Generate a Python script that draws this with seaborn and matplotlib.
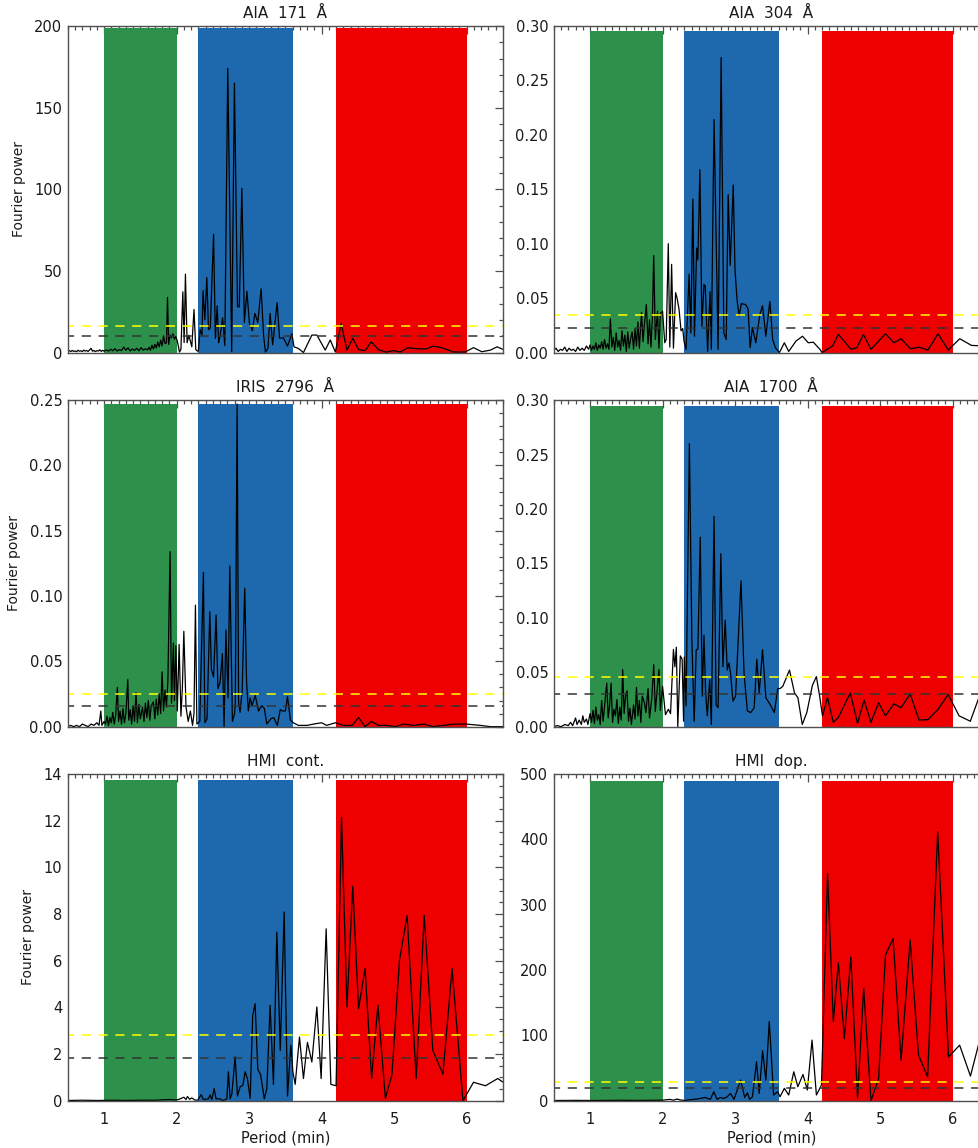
import matplotlib
matplotlib.use("Agg")
import matplotlib.pyplot as plt
import seaborn as sns
from matplotlib.ticker import MultipleLocator, FormatStrFormatter

# ---- data (period in min, Fourier power) ----
titles = ["AIA  171  Å", "AIA  304  Å", "IRIS  2796  Å", "AIA  1700  Å", "HMI  cont.", "HMI  dop."]

period_171 = [0.50, 0.52, 0.54, 0.56, 0.58, 0.60, 0.62, 0.64, 0.66, 0.68, 0.70, 0.72, 0.74, 0.76, 0.78,
              0.80, 0.82, 0.84, 0.86, 0.88, 0.90, 0.92, 0.94, 0.96, 0.98, 1.00, 1.03, 1.06, 1.09, 1.12,
              1.15, 1.18, 1.21, 1.24, 1.27, 1.30, 1.33, 1.36, 1.39, 1.42, 1.45, 1.48, 1.51, 1.54, 1.57,
              1.60, 1.62, 1.64, 1.66, 1.68, 1.70, 1.72, 1.74, 1.76, 1.78, 1.80, 1.82, 1.84, 1.86, 1.875,
              1.89, 1.91, 1.93, 1.95, 1.97, 1.99, 2.01, 2.04, 2.06, 2.086, 2.104, 2.122, 2.145, 2.17,
              2.21, 2.24, 2.265, 2.29, 2.30, 2.325, 2.35, 2.365, 2.39, 2.417, 2.44, 2.465, 2.51, 2.535,
              2.56, 2.58, 2.60, 2.635, 2.665, 2.706, 2.76, 2.798, 2.84, 2.865, 2.90, 2.935, 2.97, 3.005,
              3.045, 3.08, 3.12, 3.166, 3.20, 3.225, 3.26, 3.29, 3.325, 3.387, 3.42, 3.475, 3.53, 3.59,
              3.62, 3.68, 3.75, 3.866, 3.935, 4.05, 4.12, 4.19, 4.27, 4.35, 4.43, 4.51, 4.60, 4.685,
              4.785, 4.89, 4.99, 5.085, 5.185, 5.36, 5.44, 5.54, 5.66, 5.82, 5.98, 6.096, 6.21, 6.33,
              6.42, 6.50]
power_171 = [0.8, 1.2, 0.6, 1.3, 0.7, 1.0, 0.5, 1.4, 0.8, 1.1, 0.6, 1.5, 0.9, 1.2, 0.7,
             1.6, 2.6, 0.8, 1.3, 0.6, 1.1, 0.9, 1.7, 0.7, 1.4, 0.8, 1.6, 0.9, 2.0, 1.1,
             2.4, 0.9, 1.8, 1.2, 3.4, 1.4, 2.9, 1.0, 2.2, 1.3, 2.6, 1.1, 3.0, 1.5, 2.3,
             1.6, 3.2, 1.4, 4.5, 2.2, 5.0, 2.8, 6.4, 3.5, 7.6, 4.0, 10.2, 5.5, 6.0, 33.8,
             5.0, 10.8, 9.0, 11.5, 8.2, 9.8, 7.0, 0.3, 2.0, 37.2, 6.1, 48.0, 6.0, 10.6,
             3.5, 26.4, 1.8, 0.8, 1.0, 14.0, 10.8, 37.9, 20.0, 46.0, 14.0, 15.0, 72.4, 8.7,
             28.6, 6.0, 10.0, 21.3, 4.3, 174.0, 0.5, 165.0, 28.0, 28.0, 100.5, 18.5, 37.5, 18.0,
             13.3, 24.0, 18.4, 39.0, 10.6, 0.3, 2.5, 24.0, 4.8, 30.6, 8.9, 8.9, 4.0, 11.5,
             3.5, 2.5, 0.0, 10.7, 10.7, 1.5, 7.7, 0.3, 17.9, 1.5, 8.7, 1.8, 1.2, 6.6,
             1.8, 0.2, 1.2, 0.3, 2.9, 2.2, 2.2, 3.9, 3.0, 0.3, 0.3, 3.0, 0.5, 1.5,
             3.5, 2.0]

period_304 = [0.50, 0.53, 0.56, 0.59, 0.62, 0.65, 0.68, 0.71, 0.74, 0.77, 0.80, 0.83, 0.86, 0.89, 0.92,
              0.95, 0.98, 1.00, 1.02, 1.04, 1.06, 1.08, 1.10, 1.12, 1.14, 1.16, 1.18, 1.20, 1.22, 1.24,
              1.26, 1.28, 1.30, 1.32, 1.34, 1.36, 1.38, 1.40, 1.42, 1.44, 1.46, 1.48, 1.50, 1.52, 1.54,
              1.56, 1.58, 1.60, 1.62, 1.64, 1.66, 1.68, 1.71, 1.73, 1.75, 1.776, 1.80, 1.82, 1.84, 1.86,
              1.878, 1.90, 1.93, 1.95, 1.97, 2.00, 2.03, 2.05, 2.079, 2.10, 2.125, 2.15, 2.18, 2.20,
              2.227, 2.255, 2.278, 2.297, 2.324, 2.366, 2.39, 2.418, 2.44, 2.47, 2.487, 2.515, 2.543, 2.571,
              2.589, 2.622, 2.655, 2.673, 2.710, 2.766, 2.808, 2.845, 2.878, 2.905, 2.933, 2.975, 2.999, 3.027,
              3.055, 3.087, 3.147, 3.18, 3.208, 3.24, 3.286, 3.342, 3.379, 3.425, 3.48, 3.519, 3.556, 3.612,
              3.68, 3.74, 3.84, 3.93, 4.01, 4.08, 4.17, 4.20, 4.345, 4.425, 4.60, 4.68, 4.77, 4.875,
              5.075, 5.19, 5.29, 5.42, 5.54, 5.66, 5.80, 5.94, 6.10, 6.26, 6.42, 6.50]
power_304 = [0.002, 0.004, 0.001, 0.003, 0.002, 0.005, 0.001, 0.004, 0.002, 0.003, 0.001, 0.005, 0.002, 0.004, 0.002,
             0.006, 0.003, 0.007, 0.002, 0.006, 0.003, 0.009, 0.002, 0.007, 0.004, 0.010, 0.003, 0.012, 0.004, 0.008,
             0.003, 0.031, 0.005, 0.014, 0.002, 0.018, 0.005, 0.011, 0.002, 0.020, 0.006, 0.016, 0.001, 0.019, 0.004,
             0.013, 0.019, 0.003, 0.022, 0.006, 0.028, 0.004, 0.037, 0.010, 0.026, 0.044, 0.008, 0.030, 0.005, 0.033,
             0.089, 0.012, 0.038, 0.004, 0.036, 0.038, 0.009, 0.012, 0.100, 0.005, 0.081, 0.004, 0.055, 0.050,
             0.040, 0.020, 0.022, 0.010, 0.003, 0.072, 0.018, 0.141, 0.015, 0.096, 0.085, 0.168, 0.024, 0.0625,
             0.061, 0.001, 0.056, 0.003, 0.214, 0.003, 0.271, 0.018, 0.012, 0.145, 0.080, 0.154, 0.076, 0.049,
             0.0335, 0.045, 0.044, 0.040, 0.0045, 0.023, 0.009, 0.035, 0.043, 0.015, 0.047, 0.012, 0.0045, 0.0,
             0.009, 0.001, 0.0105, 0.015, 0.009, 0.0095, 0.003, 0.0, 0.006, 0.0167, 0.003, 0.0045, 0.0167, 0.003,
             0.0173, 0.009, 0.0127, 0.0035, 0.005, 0.0023, 0.0173, 0.0023, 0.0127, 0.0066, 0.006, 0.005]

period_2796 = [0.50, 0.54, 0.58, 0.62, 0.66, 0.70, 0.74, 0.78, 0.82, 0.86, 0.90, 0.93, 0.955, 0.97, 1.00,
               1.02, 1.04, 1.06, 1.08, 1.10, 1.12, 1.14, 1.16, 1.183, 1.20, 1.22, 1.24, 1.26, 1.28, 1.30,
               1.327, 1.34, 1.36, 1.38, 1.40, 1.42, 1.44, 1.46, 1.48, 1.50, 1.53, 1.55, 1.57, 1.59, 1.61,
               1.63, 1.65, 1.68, 1.70, 1.72, 1.74, 1.76, 1.78, 1.80, 1.82, 1.84, 1.86, 1.88, 1.91, 1.93,
               1.956, 1.97, 1.99, 2.01, 2.035, 2.06, 2.08, 2.10, 2.13, 2.16, 2.19, 2.22, 2.24, 2.26, 2.28,
               2.30, 2.32, 2.37, 2.39, 2.42, 2.458, 2.48, 2.51, 2.545, 2.57, 2.60, 2.632, 2.655, 2.68, 2.71,
               2.734, 2.77, 2.80, 2.81, 2.835, 2.855, 2.875, 2.905, 2.94, 2.965, 2.99, 3.015, 3.04, 3.085, 3.13,
               3.175, 3.21, 3.245, 3.30, 3.34, 3.39, 3.43, 3.465, 3.50, 3.53, 3.57, 3.61, 3.68, 3.80, 3.89,
               4.00, 4.07, 4.19, 4.30, 4.42, 4.51, 4.60, 4.685, 4.785, 4.90, 5.015, 5.13, 5.27, 5.41, 5.54,
               5.68, 5.82, 6.00, 6.19, 6.33, 6.50]
power_2796 = [0.000, 0.001, 0.000, 0.001, 0.000, 0.002, 0.001, 0.000, 0.002, 0.001, 0.003, 0.001, 0.012, 0.001, 0.004,
              0.002, 0.008, 0.001, 0.007, 0.003, 0.011, 0.002, 0.009, 0.030, 0.004, 0.012, 0.002, 0.014, 0.003, 0.010,
              0.036, 0.005, 0.013, 0.002, 0.016, 0.004, 0.026, 0.003, 0.017, 0.006, 0.015, 0.004, 0.018, 0.007, 0.020,
              0.005, 0.016, 0.019, 0.006, 0.021, 0.009, 0.025, 0.010, 0.042, 0.012, 0.028, 0.015, 0.035, 0.134, 0.018,
              0.064, 0.020, 0.062, 0.012, 0.063, 0.008, 0.030, 0.073, 0.015, 0.004, 0.012, 0.001, 0.010, 0.093, 0.002,
              0.003, 0.004, 0.118, 0.003, 0.006, 0.088, 0.044, 0.038, 0.0855, 0.029, 0.034, 0.056, 0.000, 0.074, 0.022,
              0.123, 0.004, 0.010, 0.018, 0.247, 0.019, 0.011, 0.028, 0.106, 0.035, 0.012, 0.022, 0.016, 0.024, 0.012,
              0.016, 0.014, 0.002, 0.006, 0.007, 0.001, 0.013, 0.012, 0.012, 0.023, 0.005, 0.003, 0.001, 0.001, 0.002,
              0.003, 0.001, 0.003, 0.001, 0.001, 0.007, 0.000, 0.004, 0.001, 0.001, 0.000, 0.002, 0.001, 0.002, 0.000,
              0.001, 0.002, 0.002, 0.001, 0.000, 0.000]

period_1700 = [0.50, 0.55, 0.60, 0.65, 0.70, 0.73, 0.76, 0.80, 0.82, 0.85, 0.88, 0.90, 0.92, 0.95, 0.97,
               1.00, 1.02, 1.04, 1.06, 1.08, 1.10, 1.12, 1.14, 1.16, 1.18, 1.20, 1.23, 1.25, 1.27, 1.29,
               1.31, 1.33, 1.35, 1.37, 1.39, 1.41, 1.43, 1.45, 1.47, 1.49, 1.51, 1.53, 1.55, 1.57, 1.60,
               1.62, 1.64, 1.66, 1.68, 1.70, 1.72, 1.75, 1.77, 1.80, 1.82, 1.85, 1.878, 1.90, 1.92, 1.95,
               1.97, 2.00, 2.04, 2.08, 2.11, 2.15, 2.17, 2.19, 2.21, 2.245, 2.27, 2.29, 2.30, 2.324, 2.37,
               2.404, 2.436, 2.464, 2.487, 2.52, 2.548, 2.571, 2.594, 2.617, 2.65, 2.673, 2.71, 2.738, 2.766,
               2.804, 2.832, 2.864, 2.892, 2.915, 2.938, 2.971, 3.007, 3.082, 3.124, 3.17, 3.216, 3.264, 3.30,
               3.333, 3.379, 3.425, 3.487, 3.542, 3.589, 3.62, 3.658, 3.751, 3.82, 3.867, 3.927, 3.99, 4.067,
               4.122, 4.17, 4.206, 4.275, 4.355, 4.425, 4.59, 4.69, 4.78, 4.875, 4.98, 5.075, 5.19, 5.29,
               5.415, 5.54, 5.66, 5.80, 5.94, 6.09, 6.245, 6.42, 6.50]
power_1700 = [0.000, 0.001, 0.000, 0.002, 0.001, 0.004, 0.001, 0.008, 0.002, 0.006, 0.002, 0.010, 0.004, 0.007, 0.002,
              0.012, 0.004, 0.015, 0.003, 0.018, 0.006, 0.011, 0.002, 0.024, 0.005, 0.019, 0.040, 0.008, 0.020, 0.040,
              0.004, 0.016, 0.010, 0.025, 0.003, 0.018, 0.006, 0.0525, 0.012, 0.028, 0.033, 0.005, 0.017, 0.002, 0.020,
              0.007, 0.036, 0.010, 0.024, 0.004, 0.028, 0.022, 0.013, 0.035, 0.008, 0.025, 0.057, 0.014, 0.030, 0.0525,
              0.015, 0.037, 0.011, 0.016, 0.012, 0.071, 0.055, 0.073, 0.000, 0.065, 0.062, 0.005, 0.064, 0.019, 0.260,
              0.080, 0.005, 0.0707, 0.0714, 0.174, 0.028, 0.084, 0.031, 0.010, 0.043, 0.002, 0.193, 0.020, 0.0175,
              0.159, 0.055, 0.098, 0.052, 0.0586, 0.049, 0.0235, 0.028, 0.134, 0.049, 0.0144, 0.013, 0.0175, 0.062,
              0.031, 0.0707, 0.0266, 0.020, 0.013, 0.035, 0.035, 0.037, 0.052, 0.031, 0.0266, 0.002, 0.013, 0.038,
              0.046, 0.0266, 0.010, 0.0266, 0.004, 0.0085, 0.031, 0.003, 0.0245, 0.004, 0.022, 0.010, 0.021, 0.0175,
              0.030, 0.006, 0.0065, 0.016, 0.0296, 0.010, 0.005, 0.037, 0.030]

period_cont = [0.50, 0.70, 0.90, 1.10, 1.30, 1.50, 1.70, 1.90, 2.00, 2.05, 2.10, 2.13, 2.15, 2.18, 2.21,
               2.25, 2.29, 2.338, 2.37, 2.44, 2.462, 2.486, 2.518, 2.545, 2.60, 2.638, 2.693, 2.715, 2.738, 2.762,
               2.807, 2.84, 2.877, 2.914, 2.946, 2.977, 3.015, 3.05, 3.083, 3.12, 3.16, 3.21, 3.245, 3.29, 3.336,
               3.383, 3.43, 3.484, 3.53, 3.576, 3.604, 3.636, 3.695, 3.75, 3.805, 3.866, 3.935, 3.994, 4.063,
               4.128, 4.20, 4.275, 4.35, 4.43, 4.51, 4.60, 4.69, 4.777, 4.88, 4.97, 5.075, 5.18, 5.305,
               5.416, 5.535, 5.674, 5.80, 5.95, 6.096, 6.26, 6.43, 6.50]
power_cont = [0.01, 0.02, 0.01, 0.02, 0.01, 0.02, 0.02, 0.05, 0.03, 0.08, 0.15, 0.05, 0.18, 0.06, 0.12,
              0.03, 0.02, 0.26, 0.05, 0.08, 0.25, 0.05, 0.52, 0.08, 0.08, 0.0, 0.08, 1.24, 0.08, 0.28,
              1.88, 0.2, 0.6, 0.66, 1.24, 0.95, 0.1, 3.66, 4.16, 1.35, 1.1, 0.08, 0.52, 4.09, 0.7,
              7.23, 2.15, 8.09, 0.2, 2.38, 1.24, 0.7, 2.73, 0.95, 2.5, 1.66, 4.02, 0.95, 7.37,
              0.7, 0.64, 12.15, 4.02, 9.19, 3.95, 5.66, 0.95, 4.1, 0.1, 1.1, 6.02, 7.94, 0.95,
              7.94, 2.15, 1.14, 5.66, 0.0, 0.79, 0.64, 0.95, 0.8]

period_dop = [0.50, 0.80, 1.10, 1.40, 1.70, 2.00, 2.10, 2.15, 2.20, 2.25, 2.31, 2.497, 2.589, 2.659, 2.706,
              2.752, 2.798, 2.846, 2.892, 2.938, 2.985, 3.077, 3.133, 3.17, 3.202, 3.24, 3.296, 3.333, 3.38,
              3.425, 3.472, 3.532, 3.588, 3.62, 3.68, 3.74, 3.81, 3.866, 3.937, 3.997, 4.062, 4.122, 4.192,
              4.276, 4.355, 4.425, 4.508, 4.597, 4.69, 4.774, 4.875, 4.98, 5.075, 5.18, 5.29, 5.415, 5.53,
              5.656, 5.795, 5.944, 6.098, 6.247, 6.41, 6.50]
power_dop = [0.3, 0.5, 0.3, 0.6, 0.4, 0.8, 2.0, 0.8, 2.5, 1.0, 0.4, 3.0, 4.9, 2.0, 13.7,
             2.0, 4.9, 3.4, 6.0, 11.2, 2.0, 31.6, 4.9, 12.0, 2.0, 6.0, 59.6, 11.2, 76.5,
             31.6, 121.0, 8.7, 13.9, 6.0, 18.9, 8.7, 44.3, 21.4, 40.2, 16.3, 92.8, 8.7, 24.0,
             348.0, 121.0, 211.0, 95.4, 220.0, 4.0, 172.0, 0.0, 34.0, 223.0, 248.0, 62.0, 246.0, 70.0,
             36.6, 411.7, 67.0, 85.0, 37.7, 108.0, 100.0]

periods = [period_171, period_304, period_2796, period_1700, period_cont, period_dop]
powers = [power_171, power_304, power_2796, power_1700, power_cont, power_dop]

# significance levels (yellow / dark dashed) and band tops
sig_yellow = [16.0, 0.0348, 0.0247, 0.0459, 2.8, 28.5]
sig_black = [10.2, 0.0225, 0.0159, 0.0300, 1.83, 18.8]
band_tops = [199.0, 0.295, 0.247, 0.295, 13.75, 490.0]
y_max = [200, 0.30, 0.25, 0.30, 14, 500]

band_ranges = [(1.0, 2.0), (2.3, 3.6), (4.2, 6.0)]
band_colors = ["#2e914b", "#1e68ae", "#ee0000"]

# axis styling per panel
y_major = [50, 0.05, 0.05, 0.05, 2, 100]
y_minor = [10, 0.01, 0.01, 0.01, 0.5, 20]
y_fmt = ["%d", "%.2f", "%.2f", "%.2f", "%d", "%d"]

sns.set_theme(style="white")
plt.rcParams["font.family"] = ["DejaVu Sans"]
plt.rcParams["font.size"] = 10

fig = plt.figure(figsize=(9.79, 11.48), dpi=100)

lefts = [0.0693, 0.5657]
bottoms = [0.6929, 0.3670, 0.0412]
w, h = 0.4443, 0.2845
spine_col = "#505050"

for i in range(6):
    row, col = divmod(i, 2)
    ax = fig.add_axes([lefts[col], bottoms[row], w, h])

    for (lo, hi), c in zip(band_ranges, band_colors):
        ax.fill_between([lo, hi], 0, band_tops[i], color=c, lw=0, zorder=1)

    sns.lineplot(x=periods[i], y=powers[i], ax=ax, color="black", lw=0.9,
                 estimator=None, sort=False, zorder=3)

    ax.axhline(sig_yellow[i], color="#ffff00", lw=1.1, ls=(2, (6, 5)), zorder=4)
    ax.axhline(sig_black[i], color="#333333", lw=1.1, ls=(2, (6, 5)), zorder=4)

    ax.set_xlim(0.5, 6.5)
    ax.set_ylim(0, y_max[i])
    ax.xaxis.set_major_locator(MultipleLocator(1))
    ax.xaxis.set_minor_locator(MultipleLocator(0.1))
    ax.yaxis.set_major_locator(MultipleLocator(y_major[i]))
    ax.yaxis.set_minor_locator(MultipleLocator(y_minor[i]))
    ax.yaxis.set_major_formatter(FormatStrFormatter(y_fmt[i]))

    ax.tick_params(which="both", direction="in", top=True, right=True,
                   color=spine_col, labelcolor="#1a1a1a", width=0.9)
    ax.tick_params(which="major", length=6, labelsize=10.5)
    ax.tick_params(which="minor", length=3)
    ax.tick_params(axis="x", which="major", pad=8)
    ax.tick_params(axis="y", which="major", pad=4)
    for s in ax.spines.values():
        s.set_color(spine_col)
        s.set_linewidth(1.0)
        s.set_zorder(5)

    ax.set_title(titles[i], fontsize=11, pad=6, color="#1a1a1a")
    ax.set_xlabel("")
    ax.set_ylabel("")
    if row == 2:
        ax.set_xlabel("Period (min)", fontsize=10.5, labelpad=3, color="#1a1a1a")
    else:
        ax.tick_params(labelbottom=False)
    if col == 0:
        ax.set_ylabel("Fourier power", fontsize=10, labelpad=6, color="#1a1a1a")

fig.savefig("out.png", dpi=100)
